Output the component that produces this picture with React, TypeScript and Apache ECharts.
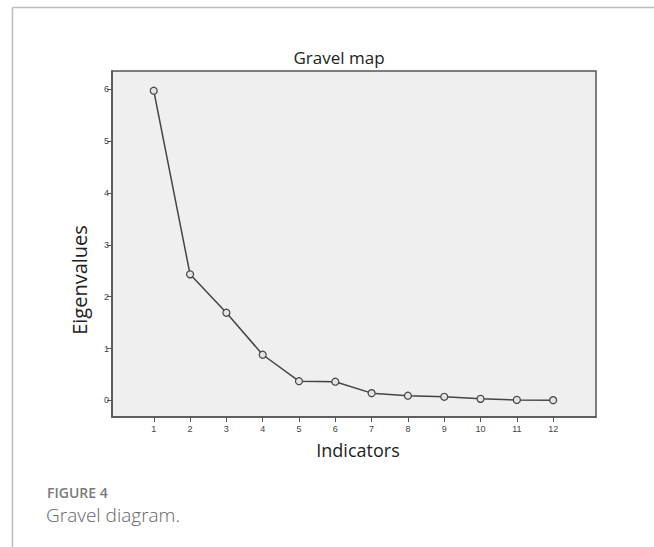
import React, { useEffect, useRef } from "react";
import * as echarts from "echarts";

const indicators = [1, 2, 3, 4, 5, 6, 7, 8, 9, 10, 11, 12];
const eigenvalues = [5.97, 2.43, 1.69, 0.88, 0.37, 0.36, 0.14, 0.09, 0.07, 0.03, 0.01, 0.005];
const yTicks = [0, 1, 2, 3, 4, 5, 6];
const xTicks = indicators;

export default function App() {
  const ref = useRef<HTMLDivElement>(null);
  useEffect(() => {
    document.body.style.margin = "0";
    const chart = echarts.init(ref.current!, undefined, { renderer: "svg" });
    const font = "'Open Sans', 'Noto Sans', sans-serif";
    const tickFont = "Arial, 'Liberation Sans', sans-serif";
    chart.setOption({
      animation: false,
      backgroundColor: "#ffffff",
      grid: {
        left: 112,
        top: 71,
        right: 58,
        bottom: 130,
        show: true,
        backgroundColor: "#efefef",
        borderColor: "#555555",
        borderWidth: 1.5,
      },
      xAxis: {
        type: "value",
        min: -0.15,
        max: 13.18,
        splitLine: { show: false },
        axisLine: { show: true, onZero: false, lineStyle: { color: "#555555", width: 1.5 } },
        axisTick: {
          show: true,
          customValues: xTicks,
          length: 5,
          lineStyle: { color: "#555555", width: 1 },
        },
        axisLabel: {
          customValues: xTicks,
          fontSize: 9,
          color: "#444444",
          margin: 7,
          fontFamily: tickFont,
        },
      },
      yAxis: {
        type: "value",
        min: -0.32,
        max: 6.35,
        splitLine: { show: false },
        axisLine: { show: true, onZero: false, lineStyle: { color: "#555555", width: 1.5 } },
        axisTick: {
          show: true,
          customValues: yTicks,
          length: 5,
          lineStyle: { color: "#555555", width: 1 },
        },
        axisLabel: {
          customValues: yTicks,
          fontSize: 9,
          color: "#444444",
          margin: 3,
          fontFamily: tickFont,
        },
      },
      series: [
        {
          type: "line",
          data: indicators.map((x, i) => [x, eigenvalues[i]]),
          symbol: "circle",
          symbolSize: 7,
          showSymbol: true,
          lineStyle: { color: "#444444", width: 1.5 },
          itemStyle: { color: "#e4e4e4", borderColor: "#444444", borderWidth: 1.2 },
        },
      ],
      graphic: [
        {
          type: "line",
          shape: { x1: 12.5, y1: 7.5, x2: 654, y2: 7.5 },
          style: { stroke: "#bbbbbb", lineWidth: 1.5 },
        },
        {
          type: "line",
          shape: { x1: 12.5, y1: 7.5, x2: 12.5, y2: 547 },
          style: { stroke: "#bbbbbb", lineWidth: 1.5 },
        },
        {
          type: "text",
          x: 339,
          y: 57,
          style: {
            text: "Gravel map",
            fontSize: 17,
            fill: "#222222",
            fontFamily: font,
            align: "center",
            verticalAlign: "middle",
          },
        },
        {
          type: "text",
          x: 358,
          y: 450,
          style: {
            text: "Indicators",
            fontSize: 18,
            fill: "#222222",
            fontFamily: font,
            align: "center",
            verticalAlign: "middle",
          },
        },
        {
          type: "text",
          x: 79,
          y: 280,
          rotation: Math.PI / 2,
          style: {
            text: "Eigenvalues",
            fontSize: 20,
            fill: "#222222",
            fontFamily: font,
            align: "center",
            verticalAlign: "middle",
          },
        },
        {
          type: "text",
          x: 47,
          y: 492,
          style: {
            text: "FIGURE 4",
            fontSize: 14,
            fontWeight: 600,
            fill: "#7a7a7a",
            fontFamily: font,
            align: "left",
            verticalAlign: "middle",
          },
        },
        {
          type: "text",
          x: 46,
          y: 515,
          style: {
            text: "Gravel diagram.",
            fontSize: 19,
            fontWeight: 300,
            fill: "#666666",
            fontFamily: font,
            align: "left",
            verticalAlign: "middle",
          },
        },
      ],
    });
    return () => chart.dispose();
  }, []);
  return (
    <div
      ref={ref}
      style={{ position: "fixed", left: 0, top: 0, width: 654, height: 547 }}
    />
  );
}
